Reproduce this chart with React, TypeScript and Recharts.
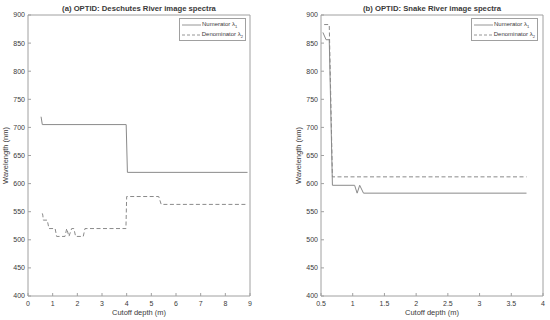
import React from 'react';
import { LineChart, Line, XAxis, YAxis, Legend } from 'recharts';

// panel (a): Deschutes River
const deschutesNumDepth = [0.53, 0.58, 3.98, 4.03, 8.9];
const deschutesNumWave = [719, 705, 705, 620, 620];
const deschutesDenDepth = [0.58, 0.6, 0.62, 0.78, 0.85, 1.1, 1.16, 1.5, 1.57, 1.66, 1.77, 1.86, 1.93, 2.24, 2.31, 3.97, 4.0, 5.3, 5.4, 8.9];
const deschutesDenWave = [547, 544, 535, 535, 520, 520, 506, 506, 520, 506, 520, 520, 506, 506, 520, 520, 577, 577, 563, 563];

// panel (b): Snake River
const snakeNumDepth = [0.53, 0.58, 0.63, 0.68, 1.03, 1.07, 1.11, 1.17, 3.74];
const snakeNumWave = [869, 856, 856, 597, 597, 583, 597, 583, 583];
const snakeDenDepth = [0.55, 0.63, 0.68, 3.74];
const snakeDenWave = [883, 883, 612, 612];

const deschutesTicks = [0, 1, 2, 3, 4, 5, 6, 7, 8, 9];
const snakeTicks = [0.5, 1, 1.5, 2, 2.5, 3, 3.5, 4];
const waveTicks = [400, 450, 500, 550, 600, 650, 700, 750, 800, 850, 900];

const toPoints = (xs: number[], ys: number[]) => xs.map((x, i) => ({ x, y: ys[i] }));

const FONT = '"Liberation Sans", Arial, sans-serif';
const AXIS = '#a0a0a0';
const LINE = '#8a8a8a';
const TEXT = '#3a3a3a';

const LegendBox = () => (
  <div
    style={{
      width: 67,
      height: 23,
      border: `1px solid ${AXIS}`,
      background: '#fff',
      fontFamily: FONT,
      fontSize: 6,
      color: TEXT,
      boxSizing: 'border-box',
      padding: '1px 2px',
    }}
  >
    {[
      { label: 'Numerator', sub: '1', dash: undefined },
      { label: 'Denominator', sub: '2', dash: '3 2' },
    ].map((r) => (
      <div key={r.label} style={{ display: 'flex', alignItems: 'center', height: 10 }}>
        <svg width={19} height={4} style={{ marginRight: 1 }}>
          <line x1={0} y1={2} x2={19} y2={2} stroke={LINE} strokeWidth={0.9} strokeDasharray={r.dash} />
        </svg>
        <span style={{ whiteSpace: 'nowrap' }}>
          {r.label} λ<sub style={{ fontSize: 4 }}>{r.sub}</sub>
        </span>
      </div>
    ))}
  </div>
);

type PanelProps = {
  title: string;
  left: number;
  yWidth: number;
  rightMargin: number;
  xDomain: [number, number];
  xTicks: number[];
  num: { x: number; y: number }[];
  den: { x: number; y: number }[];
  legendLeft: number;
};

const Panel = ({ title, left, yWidth, rightMargin, xDomain, xTicks, num, den, legendLeft }: PanelProps) => {
  const width = 275;
  return (
    <div style={{ position: 'absolute', left, top: 0, width, height: 320 }}>
      <LineChart
        width={width}
        height={320}
        margin={{ top: 14, right: rightMargin, bottom: 0, left: 0 }}
        style={{ fontFamily: FONT }}
      >
        <XAxis
          xAxisId="bottom"
          dataKey="x"
          type="number"
          domain={xDomain}
          ticks={xTicks}
          allowDataOverflow
          height={24}
          stroke={AXIS}
          tickSize={-3}
          tickMargin={8}
          tick={{ fontSize: 7, fill: TEXT }}
          label={(p: any) => {
            const vb = p.viewBox;
            const cx = vb.x + vb.width / 2;
            return (
              <g>
                <text x={cx} y={vb.y + 19} textAnchor="middle" fontSize={7.5} fill={TEXT}>
                  Cutoff depth (m)
                </text>
                <text x={cx} y={11} textAnchor="middle" fontSize={7.7} fontWeight="bold" fill={TEXT}>
                  {title}
                </text>
              </g>
            );
          }}
        />
        <XAxis
          xAxisId="top"
          orientation="top"
          dataKey="x"
          type="number"
          domain={xDomain}
          ticks={xTicks}
          allowDataOverflow
          height={1}
          stroke={AXIS}
          tickSize={-3}
          tick={false}
        />
        <YAxis
          yAxisId="left"
          type="number"
          domain={[400, 900]}
          ticks={waveTicks}
          width={yWidth}
          stroke={AXIS}
          tickSize={-3}
          tickMargin={6}
          tick={{ fontSize: 7, fill: TEXT }}
          label={(p: any) => {
            const vb = p.viewBox;
            const x = vb.x + vb.width - 20;
            const y = vb.y + vb.height / 2;
            return (
              <text x={x} y={y} transform={`rotate(-90 ${x} ${y})`} textAnchor="middle" fontSize={7.5} fill={TEXT}>
                Wavelength (nm)
              </text>
            );
          }}
        />
        <YAxis
          yAxisId="right"
          orientation="right"
          type="number"
          domain={[400, 900]}
          ticks={waveTicks}
          width={1}
          stroke={AXIS}
          tickSize={-3}
          tick={false}
        />
        <Legend
          layout="vertical"
          align="center"
          verticalAlign="middle"
          wrapperStyle={{ left: legendLeft, top: 18, width: 67, height: 23 }}
          content={() => <LegendBox />}
        />
        <Line
          xAxisId="bottom"
          yAxisId="left"
          data={num}
          dataKey="y"
          name="Numerator"
          type="linear"
          stroke={LINE}
          strokeWidth={1}
          dot={false}
          isAnimationActive={false}
        />
        <Line
          xAxisId="bottom"
          yAxisId="left"
          data={den}
          dataKey="y"
          name="Denominator"
          type="linear"
          stroke={LINE}
          strokeWidth={1}
          strokeDasharray="4 2.5"
          dot={false}
          isAnimationActive={false}
        />
      </LineChart>
    </div>
  );
};

export default function App() {
  return (
    <div style={{ position: 'absolute', left: 0, top: 0, width: 550, height: 320, background: '#fff' }}>
      <Panel
        title="(a) OPTID: Deschutes River image spectra"
        left={0}
        yWidth={28}
        rightMargin={24}
        xDomain={[0, 9]}
        xTicks={deschutesTicks}
        num={toPoints(deschutesNumDepth, deschutesNumWave)}
        den={toPoints(deschutesDenDepth, deschutesDenWave)}
        legendLeft={179}
      />
      <Panel
        title="(b) OPTID: Snake River image spectra"
        left={275}
        yWidth={46}
        rightMargin={6}
        xDomain={[0.5, 4]}
        xTicks={snakeTicks}
        num={toPoints(snakeNumDepth, snakeNumWave)}
        den={toPoints(snakeDenDepth, snakeDenWave)}
        legendLeft={196}
      />
    </div>
  );
}
